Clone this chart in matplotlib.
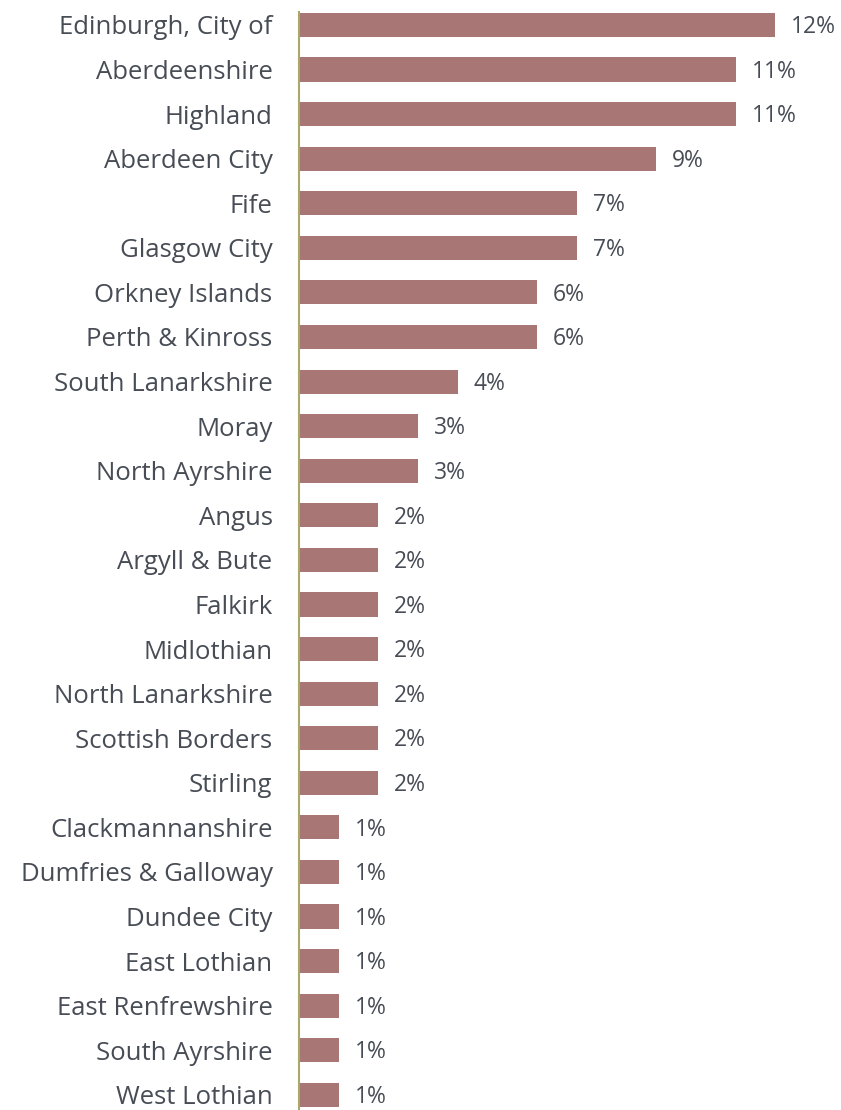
import matplotlib

matplotlib.use("Agg")
import matplotlib.pyplot as plt

regions = [
    "Edinburgh, City of", "Aberdeenshire", "Highland", "Aberdeen City", "Fife",
    "Glasgow City", "Orkney Islands", "Perth & Kinross", "South Lanarkshire",
    "Moray", "North Ayrshire", "Angus", "Argyll & Bute", "Falkirk",
    "Midlothian", "North Lanarkshire", "Scottish Borders", "Stirling",
    "Clackmannanshire", "Dumfries & Galloway", "Dundee City", "East Lothian",
    "East Renfrewshire", "South Ayrshire", "West Lothian",
]
shares = [12, 11, 11, 9, 7, 7, 6, 6, 4, 3, 3, 2, 2, 2, 2, 2, 2, 2,
          1, 1, 1, 1, 1, 1, 1]

BAR = "#a97676"
TEXT = "#474c55"
AXIS = "#a8a86a"

plt.rcParams["font.family"] = ["Open Sans", "DejaVu Sans"]

W, H = 841, 1110
fig = plt.figure(figsize=(W / 100, H / 100), dpi=100)
ax = fig.add_axes([299 / W, 0, 1 - 299 / W, (H - 12) / H])

y = list(range(len(regions)))
ax.barh(y, shares, height=0.54, color=BAR)
ax.set_xlim(0, 542 / 39.7)
ax.set_ylim(len(regions) - 1 + 0.34, -0.29)

for yi, v in zip(y, shares):
    ax.text(v + 0.4, yi + 0.05, f"{v}%", va="center", ha="left",
            fontsize=16.5, color=TEXT)

ax.set_yticks(y)
ax.set_yticklabels(regions, fontsize=18.5, color=TEXT)
ax.tick_params(axis="y", length=0, pad=19)
ax.set_xticks([])
for s in ("top", "right", "bottom"):
    ax.spines[s].set_visible(False)
ax.spines["left"].set_color(AXIS)
ax.spines["left"].set_linewidth(1.5)

fig.savefig("out.png", dpi=100)
